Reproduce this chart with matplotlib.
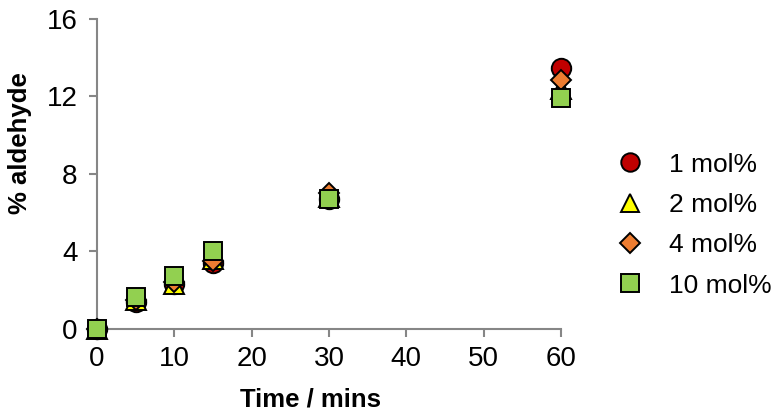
import matplotlib.pyplot as plt

plt.rcParams['font.family'] = ['Liberation Sans', 'DejaVu Sans']

time = [0, 5, 10, 15, 30, 60]
mol1 = [0, 1.4, 2.3, 3.4, 6.7, 13.45]
mol2 = [0, 1.5, 2.3, 3.6, 6.8, 12.4]
mol4 = [0, 1.5, 2.4, 3.5, 7.0, 12.85]
mol10 = [0, 1.65, 2.75, 4.0, 6.7, 11.9]
labels = ['1 mol%', '2 mol%', '4 mol%', '10 mol%']

fig = plt.figure(figsize=(7.72, 4.12), dpi=100)
ax = fig.add_axes([0.1256, 0.2015, 0.601, 0.7525])

styles = [('o', '#c00000', 14), ('^', '#ffff00', 14), ('D', '#ed7d31', 10.5), ('s', '#92d050', 13)]
for ys, lab, (m, c, s) in zip([mol1, mol2, mol4, mol10], labels, styles):
    ax.plot(time, ys, linestyle='none', marker=m, markersize=s, markerfacecolor=c,
            markeredgecolor='black', markeredgewidth=1.4, label=lab, clip_on=False, zorder=3)

ax.set_xlim(0, 60)
ax.set_ylim(0, 16)
ax.set_xticks(range(0, 61, 10))
ax.set_yticks(range(0, 17, 4))
for side in ['top', 'right']:
    ax.spines[side].set_visible(False)
for side in ['left', 'bottom']:
    ax.spines[side].set_color('#868686')
    ax.spines[side].set_linewidth(1.5)
ax.tick_params(colors='#868686', width=1.5, length=6, labelsize=20, labelcolor='black')
ax.tick_params(axis='x', pad=6)
ax.tick_params(axis='y', pad=8)

ax.set_xlabel('Time / mins', fontsize=18.5, fontweight='bold')
ax.set_ylabel('% aldehyde', fontsize=18.5, fontweight='bold')
ax.xaxis.set_label_coords(0.46, -0.188)
ax.yaxis.set_label_coords(-0.14, 0.60)

ax.legend(loc='center left', bbox_to_anchor=(1.04, 0.335), frameon=False, fontsize=19,
          handletextpad=0.5, labelspacing=0.62, markerscale=0.95)

fig.savefig('out.png', dpi=100)
